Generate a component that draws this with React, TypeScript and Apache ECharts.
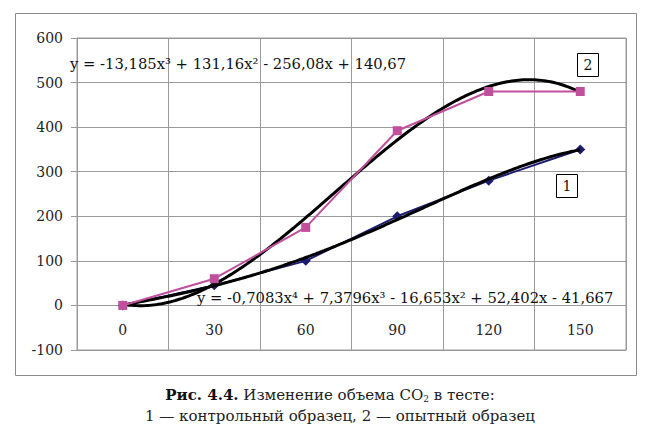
import React, { useEffect, useRef } from "react";
import * as echarts from "echarts";

// Categories (time, min) and tick labels
const categories = ["0", "30", "60", "90", "120", "150"];
// Series 1 — control sample
const controlValues = [0, 45, 100, 200, 280, 350];
// Series 2 — experimental sample
const experimentalValues = [0, 60, 175, 392, 480, 480];
// Trendline polynomial coefficients (highest power first), as printed on the chart
const trend1Coefs = [-0.7083, 7.3796, -16.653, 52.402, -41.667];
const trend2Coefs = [-13.185, 131.16, -256.08, 140.67];
const trend1Label = "y = -0,7083x⁴ + 7,3796x³ - 16,653x² + 52,402x - 41,667";
const trend2Label = "y = -13,185x³ + 131,16x² - 256,08x + 140,67";
const yTicks = { min: -100, max: 600, interval: 100 };

const FONT = "'DejaVu Serif', 'Liberation Serif', serif";

function evalPoly(coefs: number[], x: number): number {
  return coefs.reduce((acc, c) => acc * x + c, 0);
}

function trendPoints(coefs: number[]): number[][] {
  const pts: number[][] = [];
  const n = categories.length;
  for (let i = 0; i <= (n - 1) * 40; i++) {
    const x = 1 + i / 40;
    pts.push([x, evalPoly(coefs, x)]);
  }
  return pts;
}

export default function App() {
  const ref = useRef<HTMLDivElement>(null);
  useEffect(() => {
    if (!ref.current) return;
    const chart = echarts.init(ref.current, null, { renderer: "svg" });
    const grey = "#9a9a9a";
    chart.setOption({
      animation: false,
      backgroundColor: "#ffffff",
      grid: {
        left: 77,
        top: 38,
        width: 549,
        height: 312,
        show: true,
        borderColor: grey,
        borderWidth: 1,
        containLabel: false,
      },
      xAxis: [
        {
          type: "category",
          data: categories,
          boundaryGap: true,
          axisLine: { onZero: false, lineStyle: { color: grey, width: 1 } },
          axisTick: { show: false },
          axisLabel: {
            inside: true,
            margin: 13,
            color: "#222",
            fontFamily: FONT,
            fontSize: 14,
            interval: 0,
          },
          splitLine: { show: true, interval: 0, lineStyle: { color: grey, width: 1 } },
        },
        {
          type: "value",
          min: 0.5,
          max: categories.length + 0.5,
          show: false,
          axisLine: { onZero: false },
          splitLine: { show: false },
        },
      ],
      yAxis: {
        type: "value",
        min: yTicks.min,
        max: yTicks.max,
        interval: yTicks.interval,
        axisLine: { show: true, onZero: false, lineStyle: { color: grey } },
        axisTick: { show: true, length: 6, lineStyle: { color: grey } },
        axisLabel: { margin: 14, color: "#222", fontFamily: FONT, fontSize: 14 },
        splitLine: { show: true, lineStyle: { color: grey, width: 1 } },
      },
      series: [
        {
          name: "1",
          type: "line",
          xAxisIndex: 0,
          data: controlValues,
          symbol: "diamond",
          symbolSize: 10,
          lineStyle: { color: "#1c1c70", width: 2 },
          itemStyle: { color: "#1c1c70" },
          z: 1,
        },
        {
          name: "trend1",
          type: "line",
          xAxisIndex: 1,
          data: trendPoints(trend1Coefs),
          showSymbol: false,
          symbol: "none",
          lineStyle: { color: "#000000", width: 3 },
          z: 2,
        },
        {
          name: "trend2",
          type: "line",
          xAxisIndex: 1,
          data: trendPoints(trend2Coefs),
          showSymbol: false,
          symbol: "none",
          lineStyle: { color: "#000000", width: 3 },
          z: 2,
        },
        {
          name: "2",
          type: "line",
          xAxisIndex: 0,
          data: experimentalValues,
          symbol: "rect",
          symbolSize: 9,
          lineStyle: { color: "#c0509c", width: 2 },
          itemStyle: { color: "#c0509c" },
          z: 3,
        },
      ],
      graphic: [
        {
          type: "rect",
          shape: { x: 15.5, y: 13.5, width: 621, height: 362 },
          style: { fill: "none", stroke: "#8a8a8a", lineWidth: 1 },
          z: -1,
        },
        {
          type: "text",
          x: 70,
          y: 63,
          style: {
            text: trend2Label,
            font: `14.75px ${FONT}`,
            fill: "#111",
            verticalAlign: "middle",
          },
          z: 10,
        },
        {
          type: "text",
          x: 197,
          y: 297,
          style: {
            text: trend1Label,
            font: `14.75px ${FONT}`,
            fill: "#111",
            verticalAlign: "middle",
          },
          z: 10,
        },
        {
          type: "rect",
          shape: { x: 577.5, y: 53.5, width: 21, height: 23 },
          style: { fill: "#fff", stroke: "#000", lineWidth: 1 },
          z: 10,
        },
        {
          type: "text",
          x: 588,
          y: 65,
          style: { text: "2", font: `14px ${FONT}`, fill: "#111", align: "center", verticalAlign: "middle" },
          z: 11,
        },
        {
          type: "rect",
          shape: { x: 556.5, y: 174.5, width: 21, height: 23 },
          style: { fill: "#fff", stroke: "#000", lineWidth: 1 },
          z: 10,
        },
        {
          type: "text",
          x: 567,
          y: 186,
          style: { text: "1", font: `14px ${FONT}`, fill: "#111", align: "center", verticalAlign: "middle" },
          z: 11,
        },
        {
          type: "text",
          x: 330,
          y: 395,
          style: {
            text: "{b|Рис. 4.4.} Изменение объема CO{s|2} в тесте:",
            align: "center",
            verticalAlign: "middle",
            fill: "#222",
            font: `15px ${FONT}`,
            rich: {
              b: { fontFamily: FONT, fontSize: 15, fontWeight: "bold", fill: "#111" },
              s: { fontFamily: FONT, fontSize: 9, padding: [8, 0, 0, 0], fill: "#222" },
            },
          },
        },
        {
          type: "text",
          x: 340,
          y: 416,
          style: {
            text: "1 — контрольный образец, 2 — опытный образец",
            align: "center",
            verticalAlign: "middle",
            fill: "#222",
            font: `15px ${FONT}`,
          },
        },
      ],
    });
    return () => chart.dispose();
  }, []);
  return (
    <div
      ref={ref}
      style={{ position: "fixed", left: 0, top: 0, width: 645, height: 440, background: "#fff" }}
    />
  );
}
